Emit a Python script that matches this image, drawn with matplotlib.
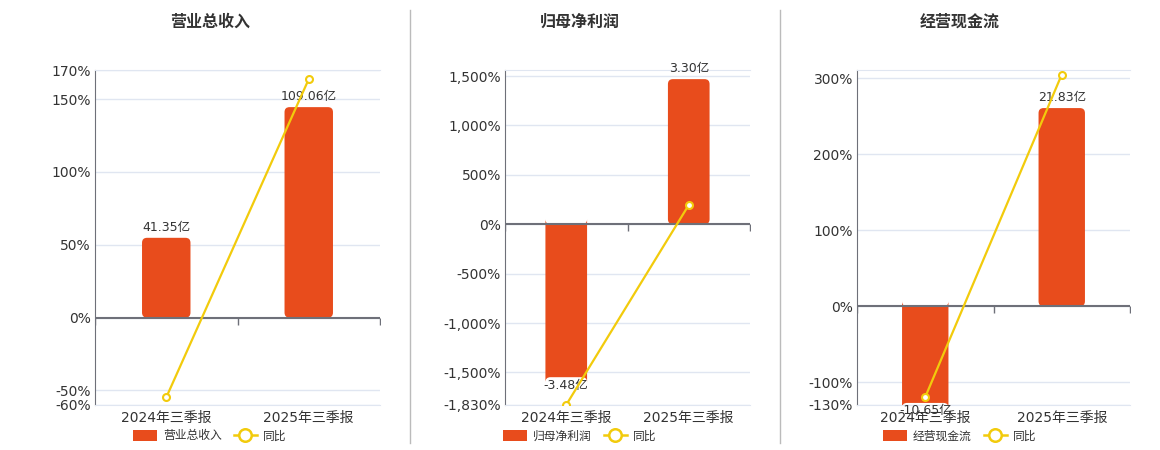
import matplotlib
matplotlib.use("Agg")
import matplotlib.pyplot as plt
from matplotlib.patches import FancyBboxPatch, Patch
from matplotlib.lines import Line2D
from matplotlib.ticker import FuncFormatter

plt.rcParams['font.family'] = ['DejaVu Sans', 'Noto Sans CJK SC']

categories = ['2024年三季报', '2025年三季报']

titles = ['营业总收入', '归母净利润', '经营现金流']

revenue = [41.35, 109.06]
revenue_yoy = [-54.8, 163.74]

net_profit = [-3.48, 3.30]
net_profit_yoy = [-1828.0, 194.83]

cash_flow = [-10.65, 21.83]
cash_flow_yoy = [-119.5, 305.0]

pct_ticks = [
    [-60, -50, 0, 50, 100, 150, 170],
    [-1830, -1500, -1000, -500, 0, 500, 1000, 1500],
    [-130, -100, 0, 100, 200, 300],
]

BAR = '#E84C1C'
LINE = '#F2CB0C'
GRID = '#E0E6F1'
AXIS = '#6E7079'
TXT = '#333333'

W, H = 1160, 450
fig = plt.figure(figsize=(W / 100, H / 100), dpi=100)

# panel layout in pixels: (left, width, ylim, bar scale %/yi, legend/title centre)
panels = [
    (95, 285, (-60, 170), 1.325, 210),
    (505, 245, (-1830, 1561), 445.0, 580),
    (857, 273, (-130, 311), 11.95, 960),
]
series = [(revenue, revenue_yoy), (net_profit, net_profit_yoy), (cash_flow, cash_flow_yoy)]

x = [0, 1]
for i, ((left, width, ylim, scale, cx), (vals, yoy)) in enumerate(zip(panels, series)):
    rect = [left / W, 45 / H, width / W, 335 / H]
    ax = fig.add_axes(rect)
    ax.set_xlim(-0.5, 1.5)
    ax.set_ylim(*ylim)
    ax.set_yticks(pct_ticks[i])
    ax.yaxis.set_major_formatter(FuncFormatter(lambda v, p: f'{int(round(v)):,}%'))
    ax.set_xticks(x, categories)
    ax.tick_params(axis='x', length=0, pad=4, labelsize=10, labelcolor=TXT)
    ax.tick_params(axis='y', length=0, pad=3, labelsize=10, labelcolor=TXT)
    ax.grid(axis='y', color=GRID, lw=1)
    ax.spines['left'].set_color(AXIS)
    ax.spines['right'].set_visible(False)
    ax.spines['top'].set_color(GRID)
    ax.spines['bottom'].set_color(GRID)

    # bars on a hidden axis whose zero lines up with 0%
    ax2 = ax.twinx()
    ax2.set_ylim(ylim[0] / scale, ylim[1] / scale)
    ax2.set_yticks([])
    for s in ax2.spines.values():
        s.set_visible(False)
    bars = ax2.bar(x, vals, width=0.34, color=BAR)
    ypp = (ylim[1] - ylim[0]) / scale / 335
    xpp = 2 / width
    for b in bars:
        b.set_visible(False)
        rb = FancyBboxPatch((b.get_x(), b.get_y()), b.get_width(), b.get_height(),
                            boxstyle=f"round,pad=0,rounding_size={5 * xpp}",
                            mutation_aspect=ypp / xpp, facecolor=BAR, edgecolor='none')
        ax2.add_patch(rb)
    ax2.axhline(0, color=AXIS, lw=1.5)
    ax2.plot([-0.5, 0.5, 1.5], [0, 0, 0], ls='none', marker=3, ms=5, mew=1, color=AXIS)
    for xi, v in zip(x, vals):
        ax2.annotate(f'{v:.2f}亿', (xi, v), xytext=(0, 3 if v > 0 else -1),
                     textcoords='offset points', ha='center',
                     va='bottom' if v > 0 else 'top', fontsize=9, color=TXT)

    # yoy line
    ax3 = ax.twinx()
    ax3.set_ylim(*ylim)
    ax3.set_yticks([])
    for s in ax3.spines.values():
        s.set_visible(False)
    ax3.plot(x, yoy, color=LINE, lw=1.6, marker='o', ms=5, mfc='white', mec=LINE, mew=1.5)

    fig.text(cx / W, 1 - 22 / H, titles[i], ha='center', va='center',
             fontsize=11.5, fontweight='bold', color=TXT)

    handles = [Patch(facecolor=BAR, edgecolor='none'),
               Line2D([], [], color=LINE, lw=1.8, marker='o', ms=9, mfc='white', mec=LINE, mew=1.8)]
    fig.legend(handles, [titles[i], '同比'], loc='center', bbox_to_anchor=(cx / W, 1 - 436 / H),
               ncol=2, frameon=False, fontsize=8.5, labelcolor=TXT, handlelength=2.0,
               handleheight=1.1, handletextpad=0.5, columnspacing=1.0, borderpad=0)

for sx in [410, 780]:
    fig.add_artist(Line2D([sx / W, sx / W], [1 - 443 / H, 1 - 10 / H], color='#BBBBBB', lw=1))

fig.savefig('out.png', dpi=100)
